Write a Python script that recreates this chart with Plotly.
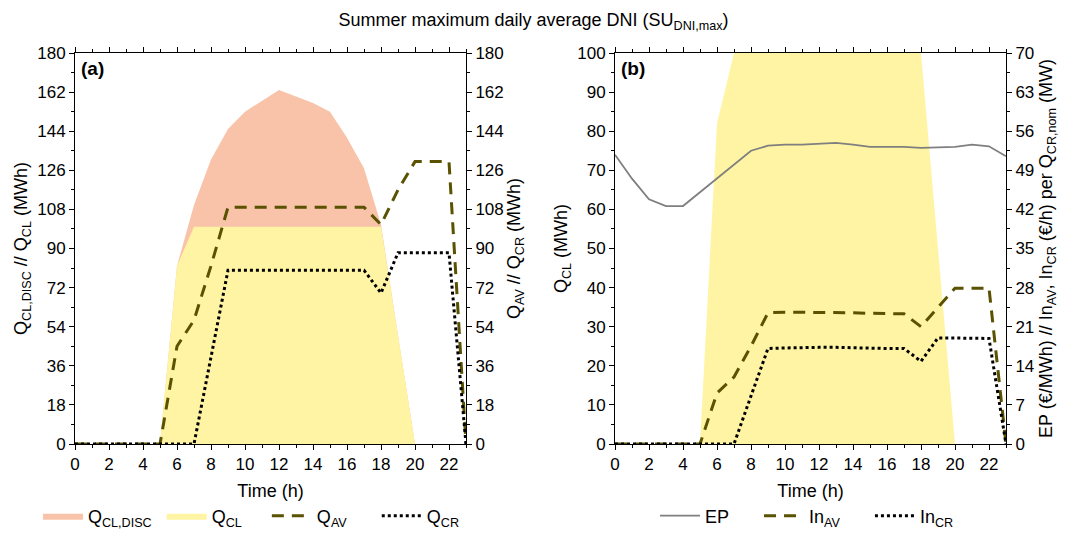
import plotly.graph_objects as go

# ---------------- data ----------------
hours = list(range(24))
x_ticks = list(range(0, 23, 2))

q_cl_disc = [0, 0, 0, 0, 0, 0, 82, 110, 131, 145, 153, 158, 163, 160, 157, 153, 141, 127, 101, 50, 0, 0, 0, 0]
q_cl = [0, 0, 0, 0, 0, 0, 82, 100, 100, 100, 100, 100, 100, 100, 100, 100, 100, 100, 100, 50, 0, 0, 0, 0]
q_av = [0, 0, 0, 0, 0, 0, 45, 57, 82, 109, 109, 109, 109, 109, 109, 109, 109, 109, 101, 117, 130, 130, 130, 0]
q_cr = [0, 0, 0, 0, 0, 0, 0, 0, 40, 80, 80, 80, 80, 80, 80, 80, 80, 80, 69.5, 88, 88, 88, 88, 0]

ep = [51.8, 47.5, 43.8, 42.6, 42.6, 45.1, 47.6, 50.0, 52.5, 53.4, 53.6, 53.6, 53.8, 53.9, 53.6, 53.2,
      53.2, 53.2, 53.0, 53.1, 53.2, 53.6, 53.3, 51.5]
in_av = [0, 0, 0, 0, 0, 0, 9.1, 12.0, 17.5, 23.5, 23.6, 23.6, 23.6, 23.6, 23.5, 23.4, 23.3, 23.3, 21.0,
         24.5, 27.9, 27.9, 27.9, 0]
in_cr = [0, 0, 0, 0, 0, 0, 0, 0, 8.6, 17.1, 17.2, 17.3, 17.3, 17.3, 17.2, 17.1, 17.1, 17.1, 14.8, 19.0,
         19.0, 19.0, 18.9, 0]

ticks_a = list(range(0, 181, 18))
ticks_b_left = list(range(0, 101, 10))
ticks_b_right = list(range(0, 71, 7))

# ---------------- style ----------------
FONT = "Liberation Sans, Arial, sans-serif"
SALMON = "#F9C3A9"
YELLOW = "#FFF4A3"
OLIVE = "#5A5200"
GREY = "#7F7F7F"
W, H = 1067, 533
NB = "&nbsp;"

def px_x(p):
    return p / W

def px_y(p):
    return (H - p) / H

dom_a = [px_x(75), px_x(466)]
dom_b = [px_x(615), px_x(1006)]
dom_y = [px_y(444), px_y(53)]

fig = go.Figure()

# panel (a)
fig.add_trace(go.Scatter(x=hours, y=q_cl_disc, fill="tozeroy", mode="lines", line=dict(width=0, color=SALMON),
                         fillcolor=SALMON, name="Q<sub>CL,DISC</sub>" + NB, xaxis="x", yaxis="y", legend="legend"))
fig.add_trace(go.Scatter(x=hours, y=q_cl, fill="tozeroy", mode="lines", line=dict(width=0, color=YELLOW),
                         fillcolor=YELLOW, name="Q<sub>CL</sub>" + NB * 4, xaxis="x", yaxis="y", legend="legend"))
fig.add_trace(go.Scatter(x=hours, y=q_av, mode="lines", line=dict(width=3, color=OLIVE, dash="12px,8px"),
                         name="Q<sub>AV</sub>" + NB * 5, xaxis="x", yaxis="y2", legend="legend"))
fig.add_trace(go.Scatter(x=hours, y=q_cr, mode="lines", line=dict(width=3, color="black", dash="dot"),
                         name="Q<sub>CR</sub>", xaxis="x", yaxis="y2", legend="legend"))

# panel (b)
fig.add_trace(go.Scatter(x=hours, y=q_cl, fill="tozeroy", mode="lines", line=dict(width=0, color=YELLOW),
                         fillcolor=YELLOW, name="Q<sub>CL</sub>", showlegend=False, xaxis="x2", yaxis="y3"))
fig.add_trace(go.Scatter(x=hours, y=ep, mode="lines", line=dict(width=1.8, color=GREY),
                         name="EP" + NB * 5, xaxis="x2", yaxis="y4", legend="legend2"))
fig.add_trace(go.Scatter(x=hours, y=in_av, mode="lines", line=dict(width=3, color=OLIVE, dash="12px,8px"),
                         name="In<sub>AV</sub>" + NB * 5, xaxis="x2", yaxis="y4", legend="legend2"))
fig.add_trace(go.Scatter(x=hours, y=in_cr, mode="lines", line=dict(width=3, color="black", dash="dot"),
                         name="In<sub>CR</sub>", xaxis="x2", yaxis="y4", legend="legend2"))

tickfont = dict(family=FONT, size=17, color="black")
titlefont = dict(family=FONT, size=18, color="black")

def xaxis_cfg(domain, anchor):
    return dict(domain=domain, anchor=anchor, range=[0, 23], tickvals=x_ticks, ticks="outside", ticklen=5,
                tickcolor="black", showline=True, linecolor="black", linewidth=1, mirror="ticks",
                showgrid=False, zeroline=False, tickfont=tickfont, ticklabelstandoff=0, automargin=False,
                minor=dict(dtick=1, tick0=0, ticks="outside", ticklen=3, tickcolor="black", showgrid=False),
                title=dict(text="Time (h)", font=titlefont, standoff=10))

def yaxis_cfg(rng, tvals, minor_dtick, title, side="left", overlaying=None, anchor="x", standoff=6):
    d = dict(domain=dom_y, anchor=anchor, range=rng, tickvals=tvals, ticks="outside", ticklen=5,
             tickcolor="black", showline=True, linecolor="black", linewidth=1, side=side,
             showgrid=False, zeroline=False, tickfont=tickfont, automargin=False,
             minor=dict(dtick=minor_dtick, tick0=0, ticks="outside", ticklen=3, tickcolor="black", showgrid=False),
             title=dict(text=title, font=titlefont, standoff=standoff))
    if overlaying:
        d["overlaying"] = overlaying
    return d

fig.update_layout(
    width=W, height=H,
    margin=dict(l=0, r=0, t=0, b=0, autoexpand=False),
    paper_bgcolor="white", plot_bgcolor="rgba(0,0,0,0)",
    font=dict(family=FONT, color="black"),
    xaxis=xaxis_cfg(dom_a, "y"),
    xaxis2=xaxis_cfg(dom_b, "y3"),
    yaxis=yaxis_cfg([0, 180], ticks_a, 9, "Q<sub>CL,DISC</sub> // Q<sub>CL</sub> (MWh)", anchor="x", standoff=4),
    yaxis2=yaxis_cfg([0, 180], ticks_a, 9, "Q<sub>AV</sub> // Q<sub>CR</sub> (MWh)", side="right",
                     overlaying="y", anchor="x", standoff=4),
    yaxis3=yaxis_cfg([0, 100], ticks_b_left, 5, "Q<sub>CL</sub> (MWh)", anchor="x2", standoff=4),
    yaxis4=yaxis_cfg([0, 70], ticks_b_right, 3.5,
                     "EP (€/MWh) // In<sub>AV</sub>, In<sub>CR</sub> (€/h) per Q<sub>CR,nom</sub> (MW)",
                     side="right", overlaying="y3", anchor="x2", standoff=6),
    title=dict(text="Summer maximum daily average DNI (SU<sub>DNI,max</sub>)", x=0.5, xanchor="center",
               y=1 - 20 / H, yanchor="middle", font=dict(family=FONT, size=18, color="black")),
    legend=dict(orientation="h", x=px_x(38), xanchor="left", y=px_y(516), yanchor="middle",
                font=dict(family=FONT, size=18, color="black"), bgcolor="rgba(0,0,0,0)", itemwidth=40,
                traceorder="normal"),
    legend2=dict(orientation="h", x=px_x(655), xanchor="left", y=px_y(516), yanchor="middle",
                 font=dict(family=FONT, size=18, color="black"), bgcolor="rgba(0,0,0,0)", itemwidth=40,
                 traceorder="normal"),
    showlegend=True,
    annotations=[
        dict(text="<b>(a)</b>", xref="paper", yref="paper", x=px_x(79), y=px_y(56), xanchor="left",
             yanchor="top", showarrow=False, font=dict(family=FONT, size=19, color="black")),
        dict(text="<b>(b)</b>", xref="paper", yref="paper", x=px_x(619), y=px_y(56), xanchor="left",
             yanchor="top", showarrow=False, font=dict(family=FONT, size=19, color="black")),
    ],
)

fig.write_html("out.html")
